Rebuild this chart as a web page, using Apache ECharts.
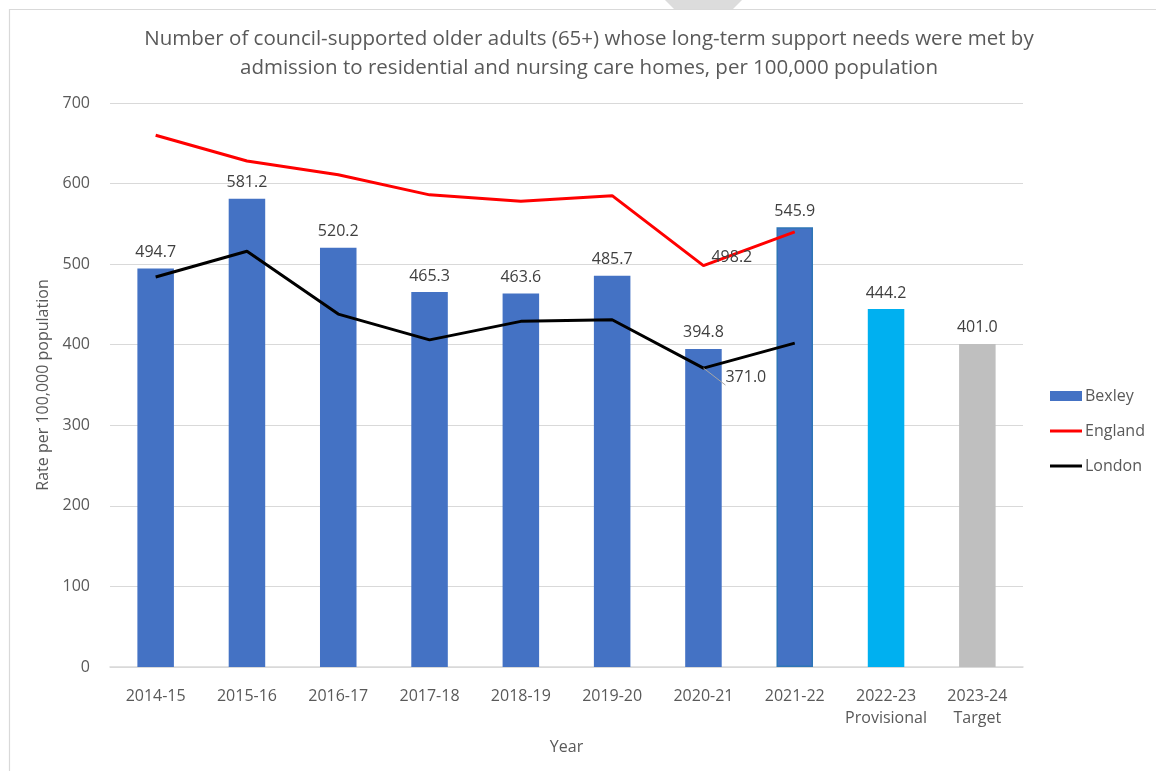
<!DOCTYPE html>
<html>
<head>
<meta charset="utf-8">
<script src="https://cdn.jsdelivr.net/npm/echarts@6/dist/echarts.min.js"></script>
<style>
html,body{margin:0;padding:0;background:#fff;}
#chart{width:1156px;height:771px;}
</style>
</head>
<body>
<div id="chart"></div>
<script>
var categories = ['2014-15','2015-16','2016-17','2017-18','2018-19','2019-20','2020-21','2021-22','2022-23\nProvisional','2023-24\nTarget'];
var bexley = [494.7, 581.2, 520.2, 465.3, 463.6, 485.7, 394.8, 545.9, 444.2, 401.0];
var england = [660, 628, 611, 586, 578, 585, 498.2, 540, null, null];
var london = [484, 516, 438, 406, 429, 431, 371.0, 402, null, null];
var yTicks = [0, 100, 200, 300, 400, 500, 600, 700];

var FONT = '"Open Sans", "Noto Sans", sans-serif';
var TXT = '#595959';
var barColors = ['#4472C4','#4472C4','#4472C4','#4472C4','#4472C4','#4472C4','#4472C4','#4472C4','#00B0F0','#BFBFBF'];

var chart = echarts.init(document.getElementById('chart'), null, {renderer:'canvas'});

var barData = bexley.map(function(v, i){
  var it = {value: v, itemStyle: {color: barColors[i]}};
  if (i === 7) { it.itemStyle.borderColor = '#2E75B6'; it.itemStyle.borderWidth = 1.5; }
  return it;
});
var englandData = england.map(function(v, i){
  if (i === 6) return {value: v, label: {show: true, position: 'right', offset: [3, -8]}};
  return v;
});
var londonData = london.map(function(v, i){
  if (i === 6) return {value: v, label: {show: true, position: 'right', offset: [17, 9]}, labelLine: {show: true}};
  return v;
});
function fmt(p){ return Number(p.value).toFixed(1); }

var option = {
  backgroundColor: '#fff',
  animation: false,
  textStyle: {fontFamily: FONT},
  graphic: [
    {type: 'rect', shape: {x: 9.5, y: 9.5, width: 1200, height: 800}, style: {fill: 'none', stroke: '#D9D9D9', lineWidth: 1.2}, silent: true, z: -1},
    {type: 'polygon', shape: {points: [[665,0],[742,0],[733,9],[674,9]]}, style: {fill: '#DCDCDC'}, silent: true, z: -1}
  ],
  title: {
    text: 'Number of council-supported older adults (65+) whose long-term support needs were met by\nadmission to residential and nursing care homes, per 100,000 population',
    left: 589, top: 25, textAlign: 'center',
    textStyle: {fontFamily: FONT, fontSize: 20.5, fontWeight: 'normal', color: TXT, lineHeight: 29},
    padding: [0, 0, 0, 0]
  },
  legend: {
    orient: 'vertical', left: 1050, top: 388, itemGap: 19, itemWidth: 32, itemHeight: 10, padding: 0,
    textStyle: {fontFamily: FONT, fontSize: 16, color: TXT, padding: [0, 0, 0, -2]},
    data: [
      {name: 'Bexley', icon: 'rect'},
      {name: 'England', icon: 'path://M0,4 L32,4 L32,7 L0,7 Z'},
      {name: 'London', icon: 'path://M0,4 L32,4 L32,7 L0,7 Z'}
    ]
  },
  grid: {left: 110, right: 133, top: 103, bottom: 104, containLabel: false},
  xAxis: {
    type: 'category', data: categories,
    name: 'Year', nameLocation: 'middle', nameGap: 72,
    nameTextStyle: {fontFamily: FONT, fontSize: 16, color: TXT},
    axisLine: {lineStyle: {color: '#D9D9D9', width: 1.5}},
    axisTick: {show: false},
    axisLabel: {fontFamily: FONT, fontSize: 16, color: TXT, margin: 18, lineHeight: 22, interval: 0}
  },
  yAxis: {
    type: 'value', min: 0, max: 700, interval: 100,
    name: 'Rate per 100,000 population', nameLocation: 'middle', nameGap: 57, nameRotate: 90,
    nameTextStyle: {fontFamily: FONT, fontSize: 16, color: TXT},
    axisLine: {show: false}, axisTick: {show: false},
    axisLabel: {fontFamily: FONT, fontSize: 16, color: TXT, margin: 20,
      formatter: function(v){ return yTicks.indexOf(v) >= 0 ? String(v) : ''; }},
    splitLine: {lineStyle: {color: '#D9D9D9', width: 1.2}}
  },
  series: [
    {
      name: 'Bexley', type: 'bar', data: barData, barWidth: '40%', color: '#4472C4',
      label: {show: true, position: 'top', distance: 8, fontFamily: FONT, fontSize: 16, color: '#404040', formatter: fmt},
      z: 2
    },
    {
      name: 'England', type: 'line', data: englandData, color: '#FF0000',
      symbol: 'circle', symbolSize: 0.01, showSymbol: true,
      lineStyle: {width: 3, color: '#FF0000'},
      label: {show: false, fontFamily: FONT, fontSize: 16, color: '#404040', formatter: fmt},
      z: 3
    },
    {
      name: 'London', type: 'line', data: londonData, color: '#000000',
      symbol: 'circle', symbolSize: 0.01, showSymbol: true,
      lineStyle: {width: 3, color: '#000000'},
      label: {show: false, fontFamily: FONT, fontSize: 16, color: '#404040', formatter: fmt},
      labelLine: {show: true, lineStyle: {color: '#A6A6A6', width: 1}},
      z: 3
    }
  ]
};
chart.setOption(option);
</script>
</body>
</html>
